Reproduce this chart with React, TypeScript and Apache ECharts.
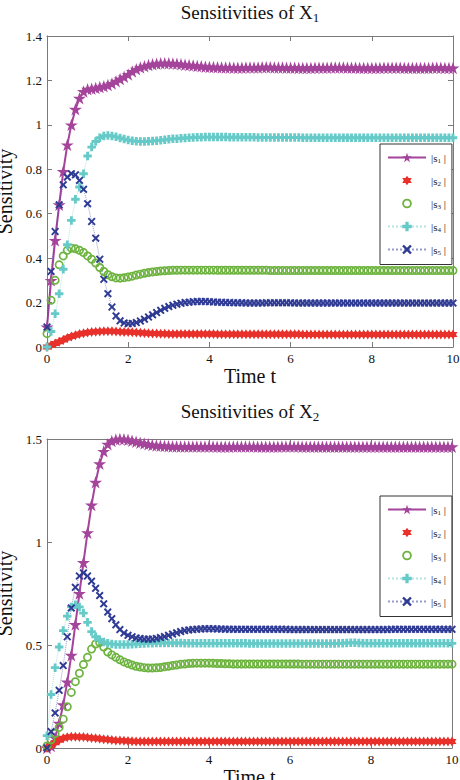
import React, { useEffect, useRef } from "react";
import * as echarts from "echarts";

// sampling instants of the simulation (0 : 0.1 : 10)
const TIME: number[] = Array.from({ length: 101 }, (_, i) => i / 10);

const NAMES = ["s1", "s2", "s3", "s4", "s5"];
const TITLES = ["Sensitivities of X", "Sensitivities of X"];
const TITLE_SUBS = ["1", "2"];
const X_NAME = "Time t";
const Y_NAME = "Sensitivity";

// ---- X1 ----
const X1_S1 = [
  0.09, 0.30, 0.48, 0.64, 0.79, 0.91, 1.00, 1.07, 1.12, 1.15,
  1.16, 1.163, 1.166, 1.17, 1.174, 1.179, 1.186, 1.196, 1.206, 1.216,
  1.227, 1.24, 1.25, 1.258, 1.264, 1.269, 1.273, 1.275, 1.277, 1.277,
  1.277, 1.276, 1.275, 1.273, 1.271, 1.269, 1.267, 1.265, 1.264, 1.262,
  1.261, 1.26, 1.259, 1.258, 1.258, 1.258, 1.257, 1.257, 1.257, 1.258,
  1.258, 1.258, 1.258, 1.259, 1.259, 1.259, 1.258, 1.258, 1.258, 1.257,
  1.257, 1.257, 1.256, 1.256, 1.256, 1.256, 1.257, 1.257, 1.257, 1.257,
  1.258, 1.258, 1.258, 1.258, 1.257, 1.257, 1.257, 1.256, 1.256, 1.256,
  1.256, 1.256, 1.256, 1.257, 1.257, 1.257, 1.257, 1.257, 1.256, 1.256,
  1.256, 1.256, 1.256, 1.256, 1.256, 1.257, 1.257, 1.257, 1.256, 1.256,
  1.256,
];
const X1_S2 = [
  0, 0.008, 0.016, 0.024, 0.032, 0.04, 0.047, 0.053, 0.058, 0.062,
  0.065, 0.067, 0.069, 0.07, 0.071, 0.071, 0.071, 0.07, 0.069, 0.068,
  0.067, 0.066, 0.065, 0.064, 0.063, 0.062, 0.061, 0.061, 0.06, 0.06,
  0.059, 0.059, 0.059, 0.058, 0.058, 0.058, 0.058, 0.058, 0.058, 0.058,
  0.058, 0.058, 0.057, 0.057, 0.057, 0.057, 0.057, 0.057, 0.057, 0.057,
  0.057, 0.057, 0.057, 0.057, 0.057, 0.057, 0.057, 0.057, 0.057, 0.057,
  0.057, 0.057, 0.057, 0.056, 0.056, 0.056, 0.056, 0.056, 0.056, 0.056,
  0.056, 0.056, 0.056, 0.056, 0.056, 0.056, 0.056, 0.056, 0.056, 0.056,
  0.056, 0.056, 0.056, 0.056, 0.056, 0.056, 0.056, 0.056, 0.056, 0.056,
  0.056, 0.056, 0.056, 0.056, 0.056, 0.056, 0.056, 0.056, 0.056, 0.056,
  0.056,
];
const X1_S3 = [
  0.06, 0.21, 0.3, 0.37, 0.41, 0.435, 0.445, 0.442, 0.435, 0.425,
  0.41, 0.395, 0.378, 0.358, 0.34, 0.325, 0.316, 0.311, 0.31, 0.312,
  0.315, 0.319, 0.324, 0.328, 0.332, 0.335, 0.338, 0.34, 0.342, 0.343,
  0.344, 0.345, 0.345, 0.346, 0.346, 0.346, 0.346, 0.346, 0.346, 0.346,
  0.346, 0.346, 0.345, 0.345, 0.345, 0.345, 0.345, 0.345, 0.345, 0.345,
  0.345, 0.345, 0.345, 0.345, 0.345, 0.344, 0.344, 0.344, 0.344, 0.344,
  0.344, 0.344, 0.344, 0.344, 0.344, 0.344, 0.344, 0.344, 0.344, 0.344,
  0.344, 0.344, 0.344, 0.344, 0.344, 0.344, 0.344, 0.344, 0.344, 0.344,
  0.344, 0.344, 0.344, 0.344, 0.344, 0.344, 0.344, 0.344, 0.344, 0.344,
  0.344, 0.344, 0.344, 0.344, 0.344, 0.344, 0.344, 0.344, 0.344, 0.344,
  0.344,
];
const X1_S4 = [
  0, 0.07, 0.15, 0.24, 0.35, 0.46, 0.57, 0.665, 0.72, 0.78,
  0.86, 0.9, 0.925, 0.942, 0.95, 0.952, 0.95, 0.946, 0.941, 0.936,
  0.932, 0.928, 0.926, 0.925, 0.925, 0.926, 0.927, 0.929, 0.931, 0.933,
  0.935, 0.937, 0.938, 0.94, 0.941, 0.942, 0.943, 0.944, 0.944, 0.945,
  0.945, 0.945, 0.945, 0.945, 0.945, 0.944, 0.944, 0.944, 0.944, 0.944,
  0.944, 0.944, 0.943, 0.943, 0.943, 0.943, 0.943, 0.943, 0.943, 0.943,
  0.943, 0.943, 0.943, 0.942, 0.942, 0.942, 0.942, 0.942, 0.942, 0.942,
  0.942, 0.942, 0.942, 0.942, 0.942, 0.942, 0.942, 0.942, 0.942, 0.942,
  0.942, 0.942, 0.942, 0.942, 0.942, 0.942, 0.942, 0.942, 0.942, 0.942,
  0.942, 0.942, 0.942, 0.942, 0.942, 0.942, 0.942, 0.942, 0.942, 0.942,
  0.942,
];
const X1_S5 = [
  0.09, 0.34, 0.52, 0.64, 0.73, 0.765, 0.78, 0.775, 0.75, 0.71,
  0.645, 0.565, 0.49, 0.395, 0.305, 0.24, 0.18, 0.14, 0.118, 0.108,
  0.105, 0.106, 0.11, 0.117, 0.125, 0.135, 0.145, 0.155, 0.165, 0.174,
  0.182, 0.188, 0.193, 0.197, 0.2, 0.202, 0.204, 0.205, 0.205, 0.205,
  0.204, 0.203, 0.202, 0.201, 0.2, 0.2, 0.199, 0.199, 0.199, 0.198,
  0.198, 0.198, 0.198, 0.198, 0.199, 0.199, 0.199, 0.199, 0.199, 0.199,
  0.199, 0.198, 0.198, 0.198, 0.198, 0.198, 0.198, 0.198, 0.198, 0.198,
  0.198, 0.198, 0.198, 0.198, 0.198, 0.198, 0.198, 0.198, 0.198, 0.198,
  0.198, 0.198, 0.198, 0.198, 0.198, 0.198, 0.198, 0.198, 0.198, 0.198,
  0.198, 0.198, 0.198, 0.198, 0.198, 0.198, 0.198, 0.198, 0.198, 0.198,
  0.198,
];

// ---- X2 ----
const X2_S1 = [
  0, 0.01, 0.05, 0.12, 0.21, 0.32, 0.45, 0.6, 0.75, 0.9,
  1.045, 1.18, 1.29, 1.38, 1.44, 1.475, 1.49, 1.497, 1.5, 1.499,
  1.496, 1.492, 1.487, 1.482, 1.478, 1.474, 1.471, 1.469, 1.467, 1.466,
  1.465, 1.464, 1.464, 1.463, 1.463, 1.463, 1.463, 1.463, 1.463, 1.463,
  1.463, 1.463, 1.462, 1.462, 1.462, 1.462, 1.463, 1.463, 1.463, 1.463,
  1.463, 1.463, 1.462, 1.462, 1.462, 1.462, 1.462, 1.462, 1.463, 1.463,
  1.463, 1.463, 1.463, 1.462, 1.462, 1.462, 1.462, 1.462, 1.462, 1.462,
  1.462, 1.462, 1.462, 1.462, 1.462, 1.462, 1.462, 1.462, 1.462, 1.462,
  1.462, 1.462, 1.462, 1.462, 1.462, 1.462, 1.462, 1.462, 1.462, 1.462,
  1.462, 1.462, 1.462, 1.462, 1.462, 1.462, 1.462, 1.462, 1.462, 1.462,
  1.462,
];
const X2_S2 = [
  0, 0.012, 0.026, 0.038, 0.047, 0.052, 0.055, 0.055, 0.054, 0.053,
  0.051, 0.049, 0.047, 0.045, 0.043, 0.041, 0.039, 0.037, 0.036, 0.035,
  0.034, 0.033, 0.032, 0.032, 0.031, 0.031, 0.031, 0.031, 0.031, 0.031,
  0.031, 0.031, 0.031, 0.031, 0.031, 0.031, 0.031, 0.031, 0.031, 0.031,
  0.031, 0.031, 0.031, 0.031, 0.031, 0.031, 0.031, 0.031, 0.031, 0.031,
  0.031, 0.031, 0.031, 0.031, 0.031, 0.031, 0.031, 0.031, 0.031, 0.031,
  0.031, 0.031, 0.031, 0.031, 0.031, 0.031, 0.031, 0.031, 0.031, 0.031,
  0.031, 0.031, 0.031, 0.031, 0.031, 0.031, 0.031, 0.031, 0.031, 0.031,
  0.031, 0.031, 0.031, 0.031, 0.031, 0.031, 0.031, 0.031, 0.031, 0.031,
  0.031, 0.031, 0.031, 0.031, 0.031, 0.031, 0.031, 0.031, 0.031, 0.031,
  0.031,
];
const X2_S3 = [
  0.01, 0.04, 0.07, 0.1, 0.14, 0.2, 0.27, 0.322, 0.363, 0.405,
  0.44, 0.48, 0.505, 0.512, 0.49, 0.466, 0.452, 0.44, 0.428, 0.418,
  0.41, 0.403, 0.397, 0.393, 0.39, 0.388, 0.388, 0.389, 0.391, 0.394,
  0.397, 0.4, 0.403, 0.406, 0.408, 0.41, 0.411, 0.412, 0.412, 0.412,
  0.412, 0.411, 0.41, 0.41, 0.409, 0.409, 0.408, 0.408, 0.408, 0.408,
  0.408, 0.408, 0.408, 0.408, 0.408, 0.408, 0.408, 0.408, 0.408, 0.408,
  0.408, 0.408, 0.408, 0.407, 0.407, 0.407, 0.407, 0.407, 0.407, 0.407,
  0.407, 0.407, 0.407, 0.407, 0.407, 0.407, 0.407, 0.407, 0.407, 0.407,
  0.407, 0.407, 0.407, 0.407, 0.407, 0.407, 0.407, 0.407, 0.407, 0.407,
  0.407, 0.407, 0.407, 0.407, 0.407, 0.407, 0.407, 0.407, 0.407, 0.407,
  0.407,
];
const X2_S4 = [
  0.06, 0.26, 0.39, 0.49, 0.57, 0.64, 0.685, 0.695, 0.685, 0.655,
  0.61, 0.565, 0.54, 0.525, 0.515, 0.509, 0.505, 0.503, 0.502, 0.502,
  0.503, 0.504, 0.505, 0.506, 0.507, 0.508, 0.509, 0.51, 0.51, 0.51,
  0.51, 0.51, 0.51, 0.51, 0.509, 0.509, 0.508, 0.508, 0.508, 0.508,
  0.508, 0.508, 0.508, 0.508, 0.508, 0.508, 0.508, 0.508, 0.508, 0.508,
  0.507, 0.507, 0.507, 0.507, 0.507, 0.507, 0.507, 0.507, 0.507, 0.507,
  0.507, 0.507, 0.507, 0.507, 0.507, 0.507, 0.507, 0.507, 0.507, 0.507,
  0.507, 0.507, 0.508, 0.509, 0.51, 0.511, 0.511, 0.51, 0.509, 0.508,
  0.508, 0.508, 0.508, 0.508, 0.508, 0.508, 0.508, 0.508, 0.508, 0.508,
  0.508, 0.508, 0.508, 0.508, 0.508, 0.508, 0.508, 0.508, 0.508, 0.508,
  0.508,
];
const X2_S5 = [
  0, 0.08, 0.17, 0.28, 0.4, 0.54, 0.68, 0.78, 0.835, 0.85,
  0.835, 0.81, 0.775, 0.74, 0.7, 0.66, 0.628, 0.598, 0.575, 0.558,
  0.547, 0.54, 0.534, 0.531, 0.529, 0.528, 0.529, 0.532, 0.536, 0.541,
  0.547, 0.553, 0.559, 0.565, 0.57, 0.573, 0.575, 0.577, 0.578, 0.579,
  0.579, 0.579, 0.578, 0.578, 0.577, 0.577, 0.576, 0.576, 0.576, 0.576,
  0.576, 0.576, 0.576, 0.576, 0.576, 0.576, 0.576, 0.576, 0.576, 0.576,
  0.575, 0.575, 0.575, 0.575, 0.575, 0.575, 0.575, 0.575, 0.575, 0.575,
  0.575, 0.575, 0.575, 0.575, 0.575, 0.575, 0.575, 0.575, 0.575, 0.575,
  0.575, 0.575, 0.575, 0.575, 0.575, 0.576, 0.576, 0.576, 0.576, 0.576,
  0.576, 0.576, 0.576, 0.576, 0.576, 0.576, 0.576, 0.576, 0.576, 0.576,
  0.576,
];

const X1_DATA = [X1_S1, X1_S2, X1_S3, X1_S4, X1_S5];
const X2_DATA = [X2_S1, X2_S2, X2_S3, X2_S4, X2_S5];

const SERIF = "Liberation Serif";
const AXIS_COLOR = "#7a7a7a";
const TEXT_COLOR = "#111";

const STAR5 =
  "path://M0,-10L2.245,-3.09L9.51,-3.09L3.633,1.18L5.88,8.09L0,3.82L-5.88,8.09L-3.633,1.18L-9.51,-3.09L-2.245,-3.09Z";
const STAR6 =
  "path://M0,-10L2.885,-5L8.66,-5L5.77,0L8.66,5L2.885,5L0,10L-2.885,5L-8.66,5L-5.77,0L-8.66,-5L-2.885,-5Z";
const RING =
  "path://M0,-5A5,5 0 1,1 0,5A5,5 0 1,1 0,-5Z M0,-3.1A3.1,3.1 0 1,0 0,3.1A3.1,3.1 0 1,0 0,-3.1Z";
const PLUS =
  "path://M-1.7,-5L1.7,-5L1.7,-1.7L5,-1.7L5,1.7L1.7,1.7L1.7,5L-1.7,5L-1.7,1.7L-5,1.7L-5,-1.7L-1.7,-1.7Z";
const CROSS =
  "path://M-5,-3.3L-3.3,-5L0,-1.7L3.3,-5L5,-3.3L1.7,0L5,3.3L3.3,5L0,1.7L-3.3,5L-5,3.3L-1.7,0Z";

const STYLES = [
  { color: "#a4449b", symbol: STAR5, size: [13, 12.5], line: { width: 2, type: "solid", opacity: 1 } },
  { color: "#e8312b", symbol: STAR6, size: [9, 10], line: { width: 0, type: "solid", opacity: 0 } },
  { color: "#6db33f", symbol: RING, size: [9, 9], line: { width: 0, type: "solid", opacity: 0 } },
  { color: "#66cbc8", symbol: PLUS, size: [8.5, 8.5], line: { width: 1, type: "dotted", opacity: 0.5 } },
  { color: "#2e3a93", symbol: CROSS, size: [8, 8], line: { width: 1, type: "dotted", opacity: 0.5 } },
];

const GRIDS = [
  { left: 47, top: 36, width: 406, height: 311 },
  { left: 47, top: 439, width: 405, height: 309 },
];
const Y_MAX = [1.4, 1.5];
const Y_INTERVAL = [0.2, 0.5];
const LEGEND_TOP = [144, 496];
const TITLE_Y = [12, 411];

export default function App() {
  const ref = useRef<HTMLDivElement>(null);

  useEffect(() => {
    if (!ref.current) return;
    const chart = echarts.init(ref.current, undefined, { renderer: "svg" });

    const lineStyle = { color: AXIS_COLOR, width: 1 };
    const xAxis: any[] = [];
    const yAxis: any[] = [];
    [0, 1].forEach((g) => {
      xAxis.push({
        type: "value", gridIndex: g, min: 0, max: 10, interval: 2, position: "bottom",
        axisLine: { show: true, onZero: false, lineStyle },
        axisTick: { show: true, inside: true, length: 5, lineStyle },
        axisLabel: { color: TEXT_COLOR, fontFamily: SERIF, fontSize: 13, margin: 5 },
        splitLine: { show: false },
        name: X_NAME, nameLocation: "middle", nameGap: 16,
        nameTextStyle: { color: TEXT_COLOR, fontFamily: SERIF, fontSize: 20 },
      });
      xAxis.push({
        type: "value", gridIndex: g, min: 0, max: 10, interval: 2, position: "top",
        axisLine: { show: true, onZero: false, lineStyle },
        axisTick: { show: true, inside: true, length: 5, lineStyle },
        axisLabel: { show: false }, splitLine: { show: false },
      });
      yAxis.push({
        type: "value", gridIndex: g, min: 0, max: Y_MAX[g], interval: Y_INTERVAL[g], position: "left",
        axisLine: { show: true, onZero: false, lineStyle },
        axisTick: { show: true, inside: true, length: 5, lineStyle },
        axisLabel: {
          color: TEXT_COLOR, fontFamily: SERIF, fontSize: 13, margin: 5,
          formatter: (v: number) => String(+v.toFixed(2)),
        },
        splitLine: { show: false },
        name: Y_NAME, nameLocation: "middle", nameGap: 23,
        nameTextStyle: { color: TEXT_COLOR, fontFamily: SERIF, fontSize: 20 },
      });
      yAxis.push({
        type: "value", gridIndex: g, min: 0, max: Y_MAX[g], interval: Y_INTERVAL[g], position: "right",
        axisLine: { show: true, onZero: false, lineStyle },
        axisTick: { show: true, inside: true, length: 5, lineStyle },
        axisLabel: { show: false }, splitLine: { show: false },
      });
    });

    const series: any[] = [];
    [X1_DATA, X2_DATA].forEach((set, g) => {
      set.forEach((vals, k) => {
        const st = STYLES[k];
        series.push({
          type: "line",
          name: NAMES[k],
          xAxisIndex: g * 2,
          yAxisIndex: g * 2,
          data: vals.map((v, i) => [TIME[i], v]),
          symbol: st.symbol,
          symbolSize: st.size,
          showAllSymbol: true,
          showSymbol: true,
          itemStyle: { color: st.color },
          lineStyle: { color: st.color, width: st.line.width, type: st.line.type, opacity: st.line.opacity },
          emphasis: { disabled: true },
          silent: true,
        });
      });
    });

    const legend = [0, 1].map((g) => ({
      orient: "vertical",
      left: 380,
      top: LEGEND_TOP[g],
      padding: [8, 6, 8, 7],
      itemGap: 10.5,
      itemWidth: 38,
      itemHeight: 12,
      borderColor: "#333",
      borderWidth: 1,
      backgroundColor: "#fff",
      selectedMode: false,
      data: NAMES,
      formatter: (n: string) => `{a||s}{b|${n.slice(1)}}{a| |}`,
      textStyle: {
        color: "#222", fontFamily: SERIF, fontSize: 11,
        rich: {
          a: { color: "#222", fontFamily: SERIF, fontSize: 11, lineHeight: 14 },
          b: { color: "#222", fontFamily: SERIF, fontSize: 7, lineHeight: 7, verticalAlign: "bottom" },
        },
      },
    }));

    const graphic = [0, 1].map((g) => ({
      type: "text",
      x: 250,
      y: TITLE_Y[g],
      style: {
        text: `{a|${TITLES[g]}}{b|${TITLE_SUBS[g]}}`,
        align: "center",
        verticalAlign: "middle",
        rich: {
          a: { fill: TEXT_COLOR, fontFamily: SERIF, fontSize: 19, lineHeight: 24 },
          b: { fill: TEXT_COLOR, fontFamily: SERIF, fontSize: 13, lineHeight: 13, verticalAlign: "bottom" },
        },
      },
    }));

    chart.setOption({
      animation: false,
      backgroundColor: "#fff",
      grid: GRIDS.map((g) => ({ ...g, containLabel: false, outerBoundsMode: "none" })),
      xAxis,
      yAxis,
      legend,
      graphic,
      series,
    });

    return () => chart.dispose();
  }, []);

  return (
    <div
      ref={ref}
      style={{ position: "absolute", left: 0, top: 0, width: 460, height: 780 }}
    />
  );
}
